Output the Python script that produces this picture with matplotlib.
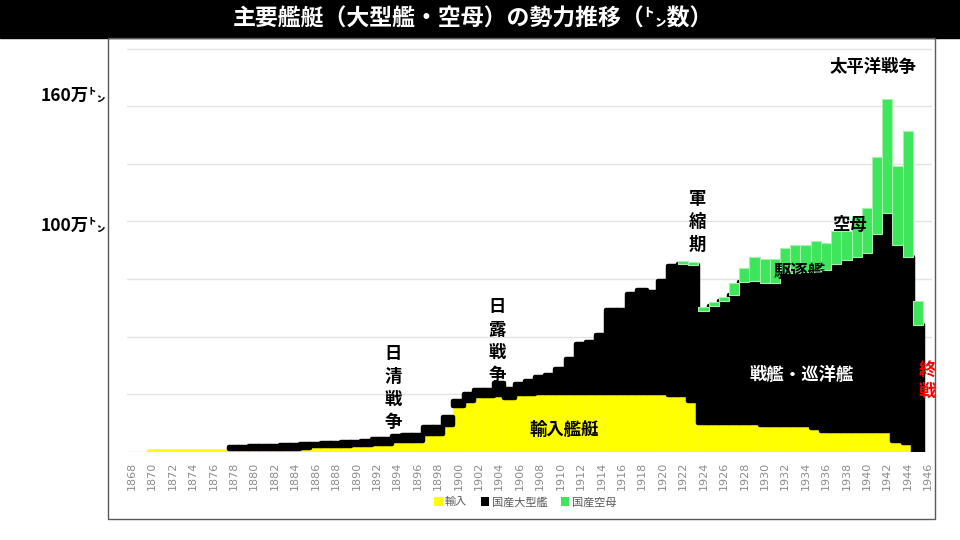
"""主要艦艇（大型艦・空母）の勢力推移 — 輸入 / 国産大型艦 / 国産空母 の積み上げ棒グラフ.

実行: python3 plot.py
産出: out.png
"""
import numpy as np
import matplotlib
matplotlib.use("Agg")
import matplotlib.pyplot as plt
from matplotlib.patches import Patch, Rectangle

plt.rcParams["font.family"] = ["Noto Sans CJK JP", "DejaVu Sans"]

YEARS = list(range(1868, 1947))
# 単位: 万トン（図から読み取った概算）
IMPORTED = [
    0, 0, 1.2, 1.2, 1.2, 1.2, 1.2, 1.2, 1.2, 1.2,                  # 1868-
    1.3, 1.3, 1.3, 1.3, 1.3, 1.3, 1.3, 1.5, 2.4, 2.4,              # 1878-
    2.6, 2.6, 2.8, 3.0, 3.5, 3.5, 4.6, 4.6, 4.6, 7.5,              # 1888-
    7.5, 11.8, 19.8, 22.0, 24.1, 24.1, 24.8, 23.4, 25.2, 25.2,     # 1898-
    25.3, 25.3, 25.3, 25.3, 25.3, 25.6, 25.6, 25.6, 25.6, 25.6,    # 1908-
    25.6, 25.6, 25.6, 24.8, 24.8, 22.1, 12.6, 12.6, 12.6, 12.6,    # 1918-
    12.6, 12.6, 11.5, 11.5, 11.5, 11.5, 11.5, 10.4, 8.9, 8.9,      # 1928-
    8.9, 8.9, 8.9, 8.9, 8.9, 4.6, 3.6, 0, 0,                       # 1938-1946
]
DOMESTIC = [
    0, 0, 0, 0, 0, 0, 0, 0, 0, 0,
    0.7, 0.9, 1.1, 1.1, 1.3, 1.5, 1.7, 1.8, 1.1, 1.3,
    1.3, 1.5, 1.5, 1.6, 1.8, 1.9, 2.4, 2.6, 2.8, 3.1,
    3.1, 3.2, 2.4, 3.0, 2.6, 2.6, 5.2, 3.9, 4.2, 5.7,
    7.0, 8.0, 10.6, 15.0, 21.5, 21.9, 25.1, 35.7, 35.7, 42.9,
    44.8, 43.6, 48.3, 55.7, 56.8, 59.1, 48.6, 50.8, 52.9, 55.4,
    61.2, 61.5, 61.6, 61.9, 66.2, 66.2, 66.6, 67.7, 70.0, 72.6,
    74.3, 75.7, 77.5, 85.6, 94.8, 85.0, 81.0, 55.0, 0,
]
CARRIERS = [
    0, 0, 0, 0, 0, 0, 0, 0, 0, 0,
    0, 0, 0, 0, 0, 0, 0, 0, 0, 0,
    0, 0, 0, 0, 0, 0, 0, 0, 0, 0,
    0, 0, 0, 0, 0, 0, 0, 0, 0, 0,
    0, 0, 0, 0, 0, 0, 0, 0, 0, 0,
    0, 0, 0, 0, 1.1, 1.1, 1.7, 1.5, 1.5, 5.3,
    6.1, 10.5, 10.4, 10.2, 10.6, 12.0, 11.6, 13.5, 11.6, 14.3,
    12.6, 17.7, 19.5, 33.5, 49.2, 34.4, 54.7, 10.5, 0,
]
SERIES = ["輸入", "国産大型艦", "国産空母"]
TITLE = "主要艦艇（大型艦・空母）の勢力推移（㌧数）"

YELLOW, BLACK, GREEN = "#ffff00", "#000000", "#3de65a"
PX = 1 / 960, 1 / 540


def main():
    yrs = np.array(YEARS)
    imp = np.array(IMPORTED, float)
    dom = np.array(DOMESTIC, float)
    car = np.array(CARRIERS, float)

    fig = plt.figure(figsize=(9.6, 5.4), dpi=100)

    # タイトル帯と外枠
    fig.patches.append(Rectangle((0, 1 - 38 * PX[1]), 1, 38 * PX[1], transform=fig.transFigure,
                                 color="black", zorder=0))
    fig.patches.append(Rectangle((108 * PX[0], 1 - 519 * PX[1]), 827 * PX[0], 481 * PX[1],
                                 transform=fig.transFigure, fill=False, ec="#595959", lw=1))
    fig.text(473 * PX[0], 1 - 19 * PX[1], TITLE, color="white", fontsize=16.5,
             fontweight="bold", ha="center", va="center")

    ax = fig.add_axes([127 * PX[0], 1 - 451.7 * PX[1], 805 * PX[0], 411.7 * PX[1]])
    ax.set_xlim(1867.54, 1946.38)
    ax.set_ylim(0, 178.7)

    ax.bar(yrs, imp, width=1.0, color=YELLOW, ec=YELLOW, lw=0.4, zorder=2, label=SERIES[0])
    m = dom > 0
    bars = ax.bar(yrs[m], dom[m], bottom=imp[m], width=1.0, color=BLACK, ec=BLACK, lw=3.2,
                  zorder=3, label=SERIES[1])
    for p in bars:
        p.set_joinstyle("round")
    m = car > 0
    ax.bar(yrs[m], car[m], bottom=(imp + dom)[m], width=1.0, color=GREEN, ec="#a8f0b0",
           lw=0.8, zorder=4, label=SERIES[2])

    ax.set_yticks(np.arange(0, 176, 25))
    ax.yaxis.grid(True, color="#e3e3e3", lw=1)
    ax.set_axisbelow(True)
    ax.tick_params(axis="y", length=0, labelleft=False)
    ax.set_xticks(yrs[::2])
    ax.set_xticklabels([str(y) for y in yrs[::2]], rotation=90, fontsize=8, color="#8c8c8c",
                       family="DejaVu Sans")
    ax.tick_params(axis="x", length=0, pad=7)
    for s in ax.spines.values():
        s.set_visible(False)

    # 注記
    kw = dict(ha="center", va="center", fontsize=12.5, fontweight="bold", zorder=6)
    vs = dict(kw, linespacing=1.33)
    ax.text(1893.6, 27.6, "\n".join("日清戦争"), **vs)
    ax.text(1903.8, 48.0, "\n".join("日露戦争"), **vs)
    ax.text(1923.4, 99.7, "\n".join("軍縮期"), **vs)
    ax.text(1945.9, 30.7, "\n".join("終戦"), color="red", **vs)
    ax.text(1940.6, 167.0, "太平洋戦争", **kw)
    ax.text(1938.4, 98.3, "空母", **kw)
    ax.text(1933.4, 78.0, "駆逐艦", **kw)
    ax.text(1933.6, 33.3, "戦艦・巡洋艦", color="white", **kw)
    ax.text(1910.4, 9.4, "輸入艦艇", **kw)

    fig.text(106 * PX[0], 1 - 96 * PX[1], "160万㌧", ha="right", va="center",
             fontsize=12.5, fontweight="bold")
    fig.text(106 * PX[0], 1 - 226 * PX[1], "100万㌧", ha="right", va="center",
             fontsize=12.5, fontweight="bold")

    handles = [Patch(fc=c) for c in (YELLOW, BLACK, GREEN)]
    fig.legend(handles, SERIES, loc="center", bbox_to_anchor=(525 * PX[0], 1 - 502 * PX[1]),
               ncol=3, frameon=False, fontsize=8, labelcolor="#595959", handlelength=0.8,
               handleheight=0.8, handletextpad=0.2, columnspacing=1.2)

    fig.savefig("out.png", dpi=100)
    plt.close(fig)


if __name__ == "__main__":
    main()
